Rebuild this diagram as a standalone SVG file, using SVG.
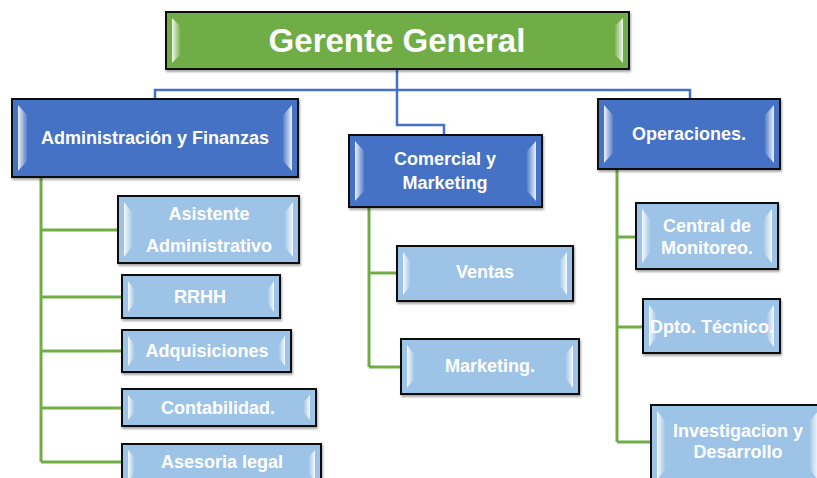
<svg xmlns="http://www.w3.org/2000/svg" width="817" height="478" viewBox="0 0 817 478">
<style>
.box{stroke:#111;stroke-width:2}
.g{fill:#70AD47}
.b{fill:#4472C4}
.l{fill:#9DC3E6}
.hl{fill:url(#hlg)}
.hr{fill:url(#hrg)}
text{font-family:"Liberation Sans",Arial,sans-serif;font-weight:bold;fill:#fff;text-anchor:middle}
.t1{font-size:33px}
.t2{font-size:18px}
.t3{font-size:18px}
.cb{fill:none;stroke:#4472C4;stroke-width:2.5}
.cg{fill:none;stroke:#70AD47;stroke-width:3}
</style>
<defs>
<linearGradient id="hlg" x1="0" y1="0" x2="1" y2="0">
<stop offset="0" stop-color="#fff" stop-opacity="0.9"/>
<stop offset="1" stop-color="#fff" stop-opacity="0.1"/>
</linearGradient>
<linearGradient id="hrg" x1="1" y1="0" x2="0" y2="0">
<stop offset="0" stop-color="#fff" stop-opacity="0.9"/>
<stop offset="1" stop-color="#fff" stop-opacity="0.1"/>
</linearGradient>
<filter id="sh" x="-5%" y="-10%" width="110%" height="130%">
<feDropShadow dx="1" dy="2" stdDeviation="1" flood-color="#000" flood-opacity="0.35"/>
</filter>
</defs>
<rect width="817" height="478" fill="#fff"/>
<g id="connectors">
<path class="cb" d="M397,69 V90 M155,99 V90 H690 V99 M397,90 V125 H444 V135"/>
<path class="cg" d="M41,177 V462 M41,230 H118 M41,297 H122 M41,351 H122 M41,408 H122 M41,462 H122"/>
<path class="cg" d="M369,207 V367 M369,273 H397 M369,367 H401"/>
<path class="cg" d="M617,169 V442 M617,237 H636 M617,327 H643 M617,442 H651"/>
</g>
<g id="gerente">
<rect class="box g" x="166" y="12" width="463" height="57" filter="url(#sh)"/>
<polygon class="hl" points="172,18 180,26 180,55 172,63"/>
<polygon class="hr" points="623,18 615,26 615,55 623,63"/>
<text class="t1" x="397" y="52">Gerente General</text>
</g>
<g id="admin">
<rect class="box b" x="12" y="99" width="286" height="78" filter="url(#sh)"/>
<polygon class="hl" points="18,105 27,115 27,161 18,171"/>
<polygon class="hr" points="292,105 283,115 283,161 292,171"/>
<text class="t2" x="155" y="144">Administración y Finanzas</text>
</g>
<g id="comercial">
<rect class="box b" x="349" y="135" width="193" height="72" filter="url(#sh)"/>
<polygon class="hl" points="355,141 364,151 364,191 355,201"/>
<polygon class="hr" points="536,141 527,151 527,191 536,201"/>
<text class="t2" x="445" y="165">Comercial y</text>
<text class="t2" x="445" y="189">Marketing</text>
</g>
<g id="operaciones">
<rect class="box b" x="598" y="99" width="182" height="70" filter="url(#sh)"/>
<polygon class="hl" points="604,105 613,115 613,153 604,163"/>
<polygon class="hr" points="774,105 765,115 765,153 774,163"/>
<text class="t2" x="689" y="140">Operaciones.</text>
</g>
<g id="asistente">
<rect class="box l" x="118" y="196" width="181" height="67" filter="url(#sh)"/>
<polygon class="hl" points="124,202 132,212 132,247 124,257"/>
<polygon class="hr" points="293,202 285,212 285,247 293,257"/>
<text class="t3" x="209" y="220">Asistente</text>
<text class="t3" x="209" y="252">Administrativo</text>
</g>
<g id="rrhh">
<rect class="box l" x="122" y="275" width="158" height="43" filter="url(#sh)"/>
<polygon class="hl" points="128,281 134,289 134,304 128,312"/>
<polygon class="hr" points="274,281 268,289 268,304 274,312"/>
<text class="t3" x="200" y="303">RRHH</text>
</g>
<g id="adquisiciones">
<rect class="box l" x="122" y="330" width="169" height="42" filter="url(#sh)"/>
<polygon class="hl" points="128,336 134,344 134,358 128,366"/>
<polygon class="hr" points="285,336 279,344 279,358 285,366"/>
<text class="t3" x="207" y="357">Adquisiciones</text>
</g>
<g id="contabilidad">
<rect class="box l" x="122" y="389" width="194" height="37" filter="url(#sh)"/>
<polygon class="hl" points="128,395 134,402 134,413 128,420"/>
<polygon class="hr" points="310,395 304,402 304,413 310,420"/>
<text class="t3" x="218" y="414">Contabilidad.</text>
</g>
<g id="asesoria">
<rect class="box l" x="122" y="444" width="199" height="40" filter="url(#sh)"/>
<polygon class="hl" points="128,450 134,457 134,474 128,481"/>
<polygon class="hr" points="315,450 309,457 309,474 315,481"/>
<text class="t3" x="222" y="468">Asesoria legal</text>
</g>
<g id="ventas">
<rect class="box l" x="397" y="246" width="176" height="55" filter="url(#sh)"/>
<polygon class="hl" points="403,252 410,261 410,286 403,295"/>
<polygon class="hr" points="567,252 560,261 560,286 567,295"/>
<text class="t3" x="485" y="278">Ventas</text>
</g>
<g id="marketing">
<rect class="box l" x="401" y="339" width="178" height="55" filter="url(#sh)"/>
<polygon class="hl" points="407,345 414,354 414,379 407,388"/>
<polygon class="hr" points="573,345 566,354 566,379 573,388"/>
<text class="t3" x="490" y="372">Marketing.</text>
</g>
<g id="central">
<rect class="box l" x="636" y="203" width="142" height="66" filter="url(#sh)"/>
<polygon class="hl" points="642,209 650,219 650,253 642,263"/>
<polygon class="hr" points="772,209 764,219 764,253 772,263"/>
<text class="t3" x="707" y="232">Central de</text>
<text class="t3" x="707" y="254">Monitoreo.</text>
</g>
<g id="dpto">
<rect class="box l" x="643" y="299" width="137" height="54" filter="url(#sh)"/>
<polygon class="hl" points="649,305 656,314 656,338 649,347"/>
<polygon class="hr" points="774,305 767,314 767,338 774,347"/>
<text class="t3" x="712" y="333">Dpto. Técnico.</text>
</g>
<g id="investigacion">
<rect class="box l" x="651" y="405" width="180" height="80" filter="url(#sh)"/>
<polygon class="hl" points="657,411 665,421 665,470 657,480"/>
<polygon class="hr" points="818,411 810,421 810,470 818,480"/>
<text class="t3" x="738" y="437">Investigacion y</text>
<text class="t3" x="738" y="458">Desarrollo</text>
</g>
</svg>
